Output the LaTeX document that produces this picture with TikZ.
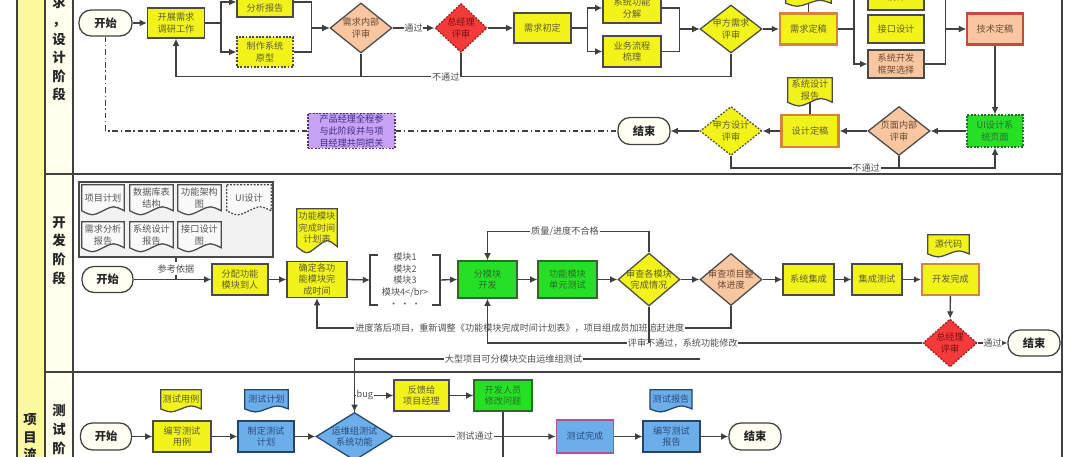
\documentclass[tikz,border=0pt]{standalone}
\usepackage{fontspec}
\setmainfont{Noto Sans CJK SC}
\usetikzlibrary{arrows.meta,positioning,shapes.geometric,calc,backgrounds}
\definecolor{LineGray}{HTML}{404040}
\definecolor{BoxEdge}{HTML}{4A4A4A}
\definecolor{Yel}{HTML}{F3F31C}
\definecolor{YelText}{HTML}{5E5E2C}
\definecolor{Peach}{HTML}{F8C7A2}
\definecolor{PeachText}{HTML}{6A4A32}
\definecolor{RedDia}{HTML}{F43A3A}
\definecolor{RedEdge}{HTML}{9A1C1C}
\definecolor{RedText}{HTML}{7A1010}
\definecolor{Grn}{HTML}{26E026}
\definecolor{GrnEdge}{HTML}{2A6A2A}
\definecolor{GrnText}{HTML}{2C6E2C}
\definecolor{Blu}{HTML}{6CAEEA}
\definecolor{BluEdge}{HTML}{24466E}
\definecolor{BluText}{HTML}{2A4C7C}
\definecolor{Purp}{HTML}{C9A3F3}
\definecolor{PurpEdge}{HTML}{4E3470}
\definecolor{PurpText}{HTML}{3C2C84}
\definecolor{OrEdge}{HTML}{D48638}
\definecolor{TechEdge}{HTML}{C64A3E}
\definecolor{TdEdge}{HTML}{B0548A}
\definecolor{Cream}{HTML}{FFFFF3}
\definecolor{LaneYel}{HTML}{FBFB9E}
\definecolor{StageFill}{HTML}{FFFFEE}
\definecolor{GrpFill}{HTML}{F2F2F2}
\definecolor{DocFill}{HTML}{F9F9F9}
\definecolor{DocText}{HTML}{555555}
\definecolor{LblText}{HTML}{505050}
\tikzset{
  sz/.style 2 args={minimum width=#1*0.025cm, minimum height=#2*0.025cm},
  txt/.style={font=\fontsize{6.5}{8.3}\selectfont},
  base/.style={txt, draw=BoxEdge, line width=0.9pt, inner sep=1pt, align=center},
  dotedge/.style={dash pattern=on 1.3pt off 1.1pt},
  ybox/.style={base, fill=Yel, text=YelText},
  obox/.style={ybox, draw=OrEdge, line width=1.5pt},
  pbox/.style={base, fill=Peach, text=PeachText},
  gbox/.style={base, fill=Grn, draw=GrnEdge, text=GrnText},
  bbox/.style={base, fill=Blu, draw=BluEdge, text=BluText},
  term/.style={base, fill=Cream, draw=LineGray, rounded corners=0.3cm, font=\fontsize{8}{9}\selectfont\bfseries, text=black!85},
  dia/.style={diamond, draw=BoxEdge, line width=0.9pt, inner sep=0pt},
  reddia/.style={dia, fill=RedDia, draw=RedEdge, dotedge},
  dtxt/.style={txt, align=center, inner sep=0pt},
  docn/.style={txt, inner sep=0pt, align=center, text=YelText},
  docy/.style={draw=BoxEdge, fill=Yel, line width=0.9pt},
  docb/.style={draw=BluEdge, fill=Blu, line width=0.9pt},
  docg/.style={draw=BoxEdge, fill=DocFill, line width=0.9pt},
  grpbox/.style={draw=BoxEdge, fill=GrpFill, line width=0.9pt},
  lbl/.style={txt, fill=white, inner sep=0.6pt, text=LblText},
  arr/.style={-{Latex[length=1.8mm,width=1.7mm]}, line width=0.95pt, draw=LineGray},
  ln/.style={line width=0.95pt, draw=LineGray},
  dashdot/.style={line width=0.9pt, draw=LineGray, dash pattern=on 4pt off 2pt on 1pt off 2pt},
  laneline/.style={line width=1pt, draw=LineGray},
  lanetxt/.style={font=\fontsize{9.5}{13.2}\selectfont\bfseries, align=center, inner sep=0pt, text=black!85}
}
% document shape with wavy bottom, drawn under the node text
\newcommand{\docwave}[3][5]{%
  \begin{scope}[on background layer]
    \draw[#3] (#2.north west) -- (#2.north east) -- (#2.south east)
      .. controls ($(#2.south east)!0.25!(#2.south west)+(0,-#1)$) .. (#2.south)
      .. controls ($(#2.south west)!0.25!(#2.south east)+(0,#1)$) .. (#2.south west) -- cycle;
  \end{scope}}
\begin{document}
\begin{tikzpicture}[x=0.025cm, y=-0.025cm]
\useasboundingbox (0,0) rectangle (1080,457);
\clip (0,0) rectangle (1080,457);
\begin{scope}[on background layer]
  \fill[white] (0,0) rectangle (1080,457);
\end{scope}

% swimlanes
\fill[LaneYel] (17,0) rectangle (45,457);
\fill[StageFill] (45,0) rectangle (73,457);
\draw[laneline] (17,0) -- (17,457) (45,0) -- (45,457) (73,0) -- (73,457) (1062,0) -- (1062,457);
\draw[laneline] (45,174) -- (1062,174) (45,372) -- (1062,372);
\node[lanetxt, font=\fontsize{9.5}{12.4}\selectfont\bfseries] (lane0) at (30,437.4) {项\\目\\流};
\node[lanetxt] (lane1) at (59,48.5) {求\\，\\设\\计\\阶\\段};
\node[lanetxt] (lane2) at (59,250.5) {开\\发\\阶\\段};
\node[lanetxt] (lane3) at (59,438.75) {测\\试\\阶\\段};

% ---- requirement / design lane
\node[term, sz={53}{26}] (s1) at (105.5,23) {开始};
\node[ybox, sz={57}{30}] (dy) at (176,23) {开展需求\\调研工作};
\node[ybox, sz={56}{30}] (rpt) at (265,2) {编写需求\\分析报告};
\node[ybox, dotedge, sz={56}{30}] (proto) at (265,52) {制作系统\\原型};
\node[dia, fill=Peach, sz={62}{50}, label={[dtxt,text=PeachText]center:需求内部\\评审}] (dr1) at (361,28) {};
\node[reddia, sz={52}{49}, label={[dtxt,text=RedText]center:总经理\\评审}] (gm1) at (461,28) {};
\node[ybox, sz={57}{30}] (init) at (542.5,28) {需求初定};
\node[ybox, sz={58}{30}] (func) at (632,8) {系统功能\\分解};
\node[ybox, sz={58}{31}] (biz) at (632,51.5) {业务流程\\梳理};
\node[dia, fill=Yel, sz={62}{48}, label={[dtxt,text=YelText]center:甲方需求\\评审}] (cl1) at (731,29) {};
\node[obox, sz={57}{31}] (fin1) at (808.5,29) {需求定稿};
\node[docn, sz={45}{23}] (docA) at (808.5,-8.5) {};
\docwave[4]{docA}{docy}
\node[ybox, sz={56}{30}] (db) at (896,-5) {\mbox{}\\设计};
\node[ybox, sz={56}{28}] (api) at (896,29) {接口设计};
\node[pbox, sz={56}{28}] (frm) at (896,64) {系统开发\\框架选择};
\node[pbox, draw=TechEdge, line width=1.5pt, sz={56}{31}] (tech) at (995,29) {技术定稿};
\node[gbox, dotedge, sz={56}{32}] (ui) at (995,131) {UI设计系\\统页面};
\node[dia, fill=Peach, sz={62}{49}, label={[dtxt,text=PeachText]center:页面内部\\评审}] (dr2) at (899,131) {};
\node[obox, sz={57}{32}] (fin2) at (810,131) {设计定稿};
\node[docn, sz={44}{24}] (docB) at (810,90) {系统设计\\报告};
\docwave[5]{docB}{docy}
\node[dia, fill=Yel, dotedge, sz={62}{49}, label={[dtxt,text=YelText]center:甲方设计\\评审}] (cl2) at (731,131) {};
\node[term, sz={52}{27}] (e1) at (644,131) {结束};
\node[base, fill=Purp, draw=PurpEdge, dotedge, text=PurpText, sz={87}{35}] (pm) at (351.5,131) {产品经理全程参\\与此阶段并与项\\目经理共同把关};

\draw[arr] (s1) -- (dy);
\draw[arr] (dy.east) -- ++(16,0) |- (rpt.west);
\draw[arr] (dy.east) -- ++(16,0) |- (proto.west);
\draw[arr] (rpt.east) -- ++(18,0) |- (dr1.west);
\draw[arr] (proto.east) -- ++(18,0) |- (dr1.west);
\draw[arr] (dr1.east) -- node[lbl] (ok1) {通过} (gm1.west);
\draw[arr] (gm1) -- (init);
\draw[arr] (init.east) -- ++(16,0) |- (func.west);
\draw[arr] (init.east) -- ++(16,0) |- (biz.west);
\draw[arr] (func.east) -- ++(18,0) |- (cl1.west);
\draw[arr] (biz.east) -- ++(18,0) |- (cl1.west);
\draw[arr] (cl1) -- (fin1);
\draw[ln] (docA.south) -- (fin1.north);
\draw[arr] (fin1.east) -- ++(16,0) |- (db.west);
\draw[arr] (fin1.east) -- ++(16,0) |- (frm.west);
\draw[arr] (db.east) -- ++(21,0) |- (tech.west);
\draw[arr] (frm.east) -- ++(21,0) |- (tech.west);
\draw[arr] (tech) -- (ui);
\draw[arr] (ui) -- (dr2);
\draw[arr] (dr2) -- (fin2);
\draw[ln] (docB.south) -- (fin2.north);
\draw[arr] (fin2) -- (cl2);
\draw[arr] (cl2) -- (e1);
\draw[arr] (cl1.south) -- ++(0,23) -| node[lbl, pos=0.257] (np1) {不通过} (dy.south);
\draw[ln] (dr1.south) -- (dr1.south |- np1);
\draw[ln] (gm1.south) -- (gm1.south |- np1);
\draw[arr] (cl2.south) -- ++(0,12) -| node[lbl, pos=0.256] (np2) {不通过} (ui.south);
\draw[ln] (dr2.south) -- (dr2.south |- np2);
\draw[dashdot] (s1.south) |- (pm.west);
\draw[dashdot] (pm.east) -- (e1.west);

% ---- development lane
\begin{scope}[on background layer]
  \node[grpbox, sz={194}{75}] (grp) at (176,219.5) {};
\end{scope}
\node[docn, text=DocText, sz={42}{25.5}] (dplan) at (103,197.75) {项目计划};
\docwave[5.3]{dplan}{docg}
\node[docn, text=DocText, sz={43}{25.5}] (ddb) at (151.5,197.75) {数据库表\\结构};
\docwave[5.3]{ddb}{docg}
\node[docn, text=DocText, sz={43}{25.5}] (darch) at (199.5,197.75) {功能架构\\图};
\docwave[5.3]{darch}{docg}
\node[docn, text=DocText, sz={44}{25.5}] (dui) at (249,197.75) {UI设计};
\docwave[5.3]{dui}{docg, dotedge}
\node[docn, text=DocText, sz={42}{25.5}] (dreq) at (103,234.75) {需求分析\\报告};
\docwave[5.3]{dreq}{docg}
\node[docn, text=DocText, sz={43}{25.5}] (dsys) at (151.5,234.75) {系统设计\\报告};
\docwave[5.3]{dsys}{docg}
\node[docn, text=DocText, sz={43}{25.5}] (dapi) at (199.5,234.75) {接口设计\\图};
\docwave[5.3]{dapi}{docg}

\node[term, sz={51}{26}] (s2) at (107.5,279.5) {开始};
\node[ybox, sz={56}{31}] (alloc) at (240,279.5) {分配功能\\模块到人};
\node[ybox, sz={60}{36}] (sched) at (317,279.5) {确定各功\\能模块完\\成时间};
\node[docn, sz={40}{37.4}] (docC) at (317,227.7) {功能模块\\完成时间\\计划表};
\docwave[8]{docC}{docy}
\node[txt, text=DocText, align=center, inner sep=0pt, sz={70}{50}] (mods) at (405,280) {模块1\\模块2\\模块3\\模块4</br>\\・ ・ ・};
\draw[ln] ($(mods.center)+(-27,-25)$) -- ($(mods.center)+(-35,-25)$) -- ($(mods.center)+(-35,25)$) -- ($(mods.center)+(-27,25)$);
\draw[ln] ($(mods.center)+(27,-25)$) -- ($(mods.center)+(35,-25)$) -- ($(mods.center)+(35,25)$) -- ($(mods.center)+(27,25)$);
\node[gbox, sz={59}{37}] (dev) at (487.5,279.5) {分模块\\开发};
\node[gbox, sz={59}{37}] (unit) at (567.5,279.5) {功能模块\\单元测试};
\node[dia, fill=Yel, sz={62}{53}, label={[dtxt,text=YelText]center:审查各模块\\完成情况}] (chk) at (649,279.5) {};
\node[dia, fill=Peach, sz={62}{52}, label={[dtxt,text=PeachText]center:审查项目整\\体进度}] (prog) at (731,279.5) {};
\node[ybox, sz={51}{31}] (integ) at (808.5,279.5) {系统集成};
\node[ybox, sz={50}{31}] (itest) at (877,279.5) {集成测试};
\node[obox, sz={57}{31}] (done) at (950.5,279.5) {开发完成};
\node[docn, sz={41}{18.7}] (docD) at (948.5,244.3) {源代码};
\docwave[4]{docD}{docy}
\node[reddia, sz={54}{48}, label={[dtxt,text=RedText]center:总经理\\评审}] (gm2) at (950,343) {};
\node[term, sz={52}{26}] (e2) at (1034,343) {结束};

\draw[dashed, ln] (grp.south) -- node[lbl, pos=0.5] (ref) {参考依据} (grp.south |- s2.east);
\draw[arr] (s2) -- (alloc);
\draw[arr] (alloc) -- (sched);
\draw[arr] (sched.east) -- ($(mods.center)+(-35,0)$);
\draw[arr] ($(mods.center)+(35,0)$) -- (dev.west);
\draw[arr] (dev) -- (unit);
\draw[arr] (unit) -- (chk);
\draw[arr] (chk) -- (prog);
\draw[arr] (prog) -- (integ);
\draw[arr] (integ) -- (itest);
\draw[arr] (itest) -- (done);
\draw[arr] (done) -- (gm2);
\draw[arr] (gm2) -- node[lbl] (ok2) {通过} (e2);
\draw[arr] (chk.north) -- ++(0,-21) -| node[lbl, pos=0.26] (q) {质量/进度不合格} (dev.north);
\draw[arr] (prog.south) -- ++(0,22) -| node[lbl, pos=0.255] (dl) {进度落后项目，重新调整《功能模块完成时间计划表》，项目组成员加班追赶进度} (sched.south);
\draw[arr] (gm2.west) -| node[lbl, pos=0.2755] (rf) {评审不通过，系统功能修改} (dev.south);
\draw[ln] (chk.south) -- (chk.south |- rf);

% ---- test lane
\node[term, sz={51}{27}] (s3) at (106,436.5) {开始};
\node[ybox, sz={58}{31}] (wcase) at (182,436.5) {编写测试\\用例};
\node[docn, sz={40}{18.7}] (docE) at (181,399.3) {测试用例};
\docwave[4]{docE}{docy}
\node[bbox, sz={56}{31}] (tplan) at (266,436.5) {制定测试\\计划};
\node[docn, text=BluText, sz={43}{18.7}] (docF) at (266.5,399.3) {测试计划};
\docwave[4]{docF}{docb}
\node[dia, fill=Blu, draw=BluEdge, sz={77}{48}, label={[dtxt,text=BluText]center:运维组测试\\系统功能}] (tdia) at (354.5,436.5) {};
\node[ybox, sz={55}{31}] (fb) at (421.5,395.5) {反馈给\\项目经理};
\node[gbox, sz={58}{31}] (fix) at (503,395.5) {开发人员\\修改问题};
\node[bbox, draw=TdEdge, line width=1.3pt, sz={57}{33}] (tdone) at (585,436.5) {测试完成};
\node[bbox, sz={57}{31}] (wrep) at (671.5,436.5) {编写测试\\报告};
\node[docn, text=BluText, sz={41.5}{18.7}] (docG) at (671,399.3) {测试报告};
\docwave[4]{docG}{docb}
\node[term, sz={52}{27}] (e3) at (755,436.5) {结束};
\coordinate (bigsrc) at (700,359);
\coordinate (fixout) at (503,468);

\draw[arr] (bigsrc) -| node[lbl, pos=0.27] (big) {大型项目可分模块交由运维组测试} (tdia.north);
\draw[arr] (s3) -- (wcase);
\draw[arr] (wcase) -- (tplan);
\draw[arr] (tplan) -- (tdia);
\draw[arr] (tdia.north) |- node[lbl, pos=0.633] (bg) {bug} (fb.west);
\draw[arr] (fb) -- (fix);
\draw[arr] (fix) -- (fixout);
\draw[arr] (tdia) -- node[lbl] (pass) {测试通过} (tdone);
\draw[arr] (tdone) -- (wrep);
\draw[arr] (wrep) -- (e3);
\end{tikzpicture}
\end{document}
